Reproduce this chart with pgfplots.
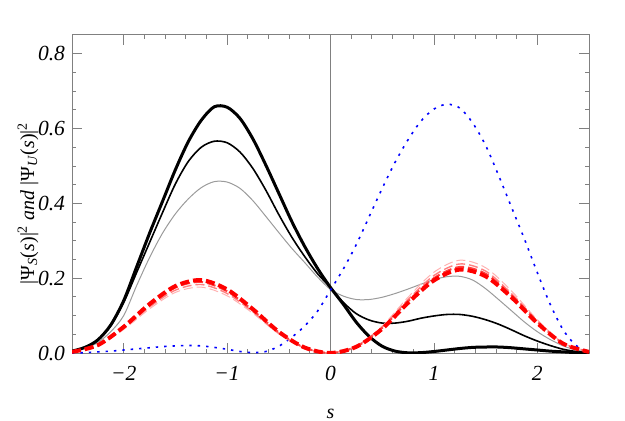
\documentclass[border=0pt]{standalone}
\usepackage{fontspec}
\setmainfont{Liberation Serif}
\usepackage{pgfplots}
\pgfplotsset{compat=1.18}
\usepackage{pgfplotstable}
\definecolor{framegray}{RGB}{128,128,128}
\definecolor{thingray}{RGB}{155,155,155}

\pgfplotstableread{
s      tb      mb     gt     bl
-2.5   0.005   0.005  0.004  0.000
-2.375 0.015   0.015  0.012  0.001
-2.25  0.035   0.035  0.028  0.003
-2.125 0.075   0.073  0.057  0.005
-2.0   0.14    0.135  0.10   0.008
-1.875 0.23    0.215  0.18   0.011
-1.75  0.32    0.295  0.255  0.014
-1.625 0.405   0.375  0.32   0.017
-1.5   0.49    0.452  0.372  0.019
-1.375 0.565   0.512  0.412  0.020
-1.25  0.622   0.550  0.442  0.019
-1.125 0.658   0.566  0.458  0.015
-1.0   0.657   0.562  0.457  0.010
-0.875 0.627   0.537  0.44   0.004
-0.75  0.572   0.493  0.407  0.001
-0.625 0.502   0.435  0.365  0.004
-0.5   0.427   0.37   0.322  0.018
-0.375 0.352   0.31   0.28   0.042
-0.25  0.285   0.258  0.242  0.072
-0.125 0.226   0.212  0.203  0.112
0.0    0.175   0.175  0.17   0.168
0.125  0.13    0.135  0.152  0.225
0.25   0.082   0.105  0.143  0.29
0.375  0.044   0.088  0.143  0.365
0.5    0.018   0.080  0.149  0.44
0.625  0.005   0.080  0.159  0.51
0.75   0.0005  0.085  0.171  0.57
0.875  0.001   0.093  0.184  0.62
1.0    0.004   0.099  0.196  0.652
1.125  0.008   0.103  0.204  0.665
1.25   0.012   0.103  0.205  0.655
1.375  0.015   0.098  0.195  0.615
1.5    0.016   0.089  0.172  0.555
1.625  0.016   0.077  0.143  0.475
1.75   0.014   0.062  0.113  0.39
1.875  0.011   0.046  0.083  0.305
2.0    0.008   0.032  0.057  0.215
2.125  0.005   0.020  0.036  0.13
2.25   0.003   0.010  0.019  0.062
2.375  0.001   0.004  0.008  0.02
2.5    0.0     0.001  0.002  0.004
}\blackdata

\pgfplotstableread{
s     ra     rb     rc     rd
-2.5  0.003  0.003  0.003  0.003
-2.25 0.021  0.021  0.020  0.019
-2.0  0.070  0.068  0.066  0.063
-1.75 0.131  0.127  0.123  0.118
-1.5  0.179  0.175  0.168  0.162
-1.25 0.195  0.19   0.183  0.176
-1.0  0.170  0.165  0.159  0.153
-0.75 0.117  0.114  0.110  0.106
-0.5  0.0566 0.055  0.053  0.051
-0.25 0.0146 0.0143 0.0137 0.013
0.0   0.0    0.0    0.0    0.0
0.25  0.0167 0.017  0.018  0.019
0.5   0.0647 0.067  0.069  0.072
0.75  0.134  0.138  0.143  0.149
1.0   0.194  0.200  0.207  0.216
1.25  0.223  0.23   0.238  0.248
1.5   0.205  0.212  0.219  0.228
1.75  0.149  0.154  0.159  0.166
2.0   0.080  0.083  0.086  0.089
2.25  0.025  0.025  0.026  0.027
2.5   0.003  0.003  0.004  0.004
}\reddata

\begin{document}
\begin{tikzpicture}
\useasboundingbox (-36bp,-34bp) rectangle (276.5bp,176.5bp);
\begin{axis}[
  at={(0,0)}, anchor=south west, scale only axis,
  width=258.5bp, height=159bp,
  xmin=-2.5, xmax=2.5, ymin=0, ymax=0.85,
  xtick={-2,-1,0,1,2}, xticklabels={−2,−1,0,1,2},
  ytick={0,0.2,0.4,0.6,0.8}, yticklabels={0.0,0.2,0.4,0.6,0.8},
  minor x tick num=4, minor y tick num=3,
  tick align=inside, major tick length=5bp, minor tick length=2bp,
  axis line style={framegray, line width=0.5bp},
  tick style={framegray, line width=0.4bp},
  ticklabel style={font=\fontsize{10.8}{13}\selectfont\itshape},
  xticklabel style={yshift=-3bp},
  every axis x label/.style={at={(axis description cs:0.5,0)}, yshift=-30.5bp, anchor=center},
  every axis y label/.style={at={(axis description cs:0,0.47)}, xshift=-22bp, rotate=90, anchor=center},
  xlabel={\textit{s}},
  ylabel={|Ψ\textsubscript{\itshape S}(\textit{s})|\textsuperscript{2} \textit{and} |Ψ\textsubscript{\itshape U}(\textit{s})|\textsuperscript{2}},
]
\addplot[framegray, line width=0.4bp] coordinates {(0,0) (0,0.85)};
\addplot[thingray, line width=0.5bp, smooth] table[x=s, y=gt] {\blackdata};
\addplot[black, line width=0.8bp, smooth] table[x=s, y=mb] {\blackdata};
\addplot[black, line width=1.5bp, smooth] table[x=s, y=tb] {\blackdata};
\addplot[blue, line width=0.8bp, dash pattern=on 1.2bp off 3bp, smooth] table[x=s, y=bl] {\blackdata};
\addplot[red!30, line width=0.5bp, dash pattern=on 4.5bp off 2bp, smooth] table[x=s, y=rd] {\reddata};
\addplot[red!50, line width=0.7bp, dash pattern=on 4.5bp off 2bp, smooth] table[x=s, y=rc] {\reddata};
\addplot[red!75, line width=1bp, dash pattern=on 4.5bp off 2bp, smooth] table[x=s, y=rb] {\reddata};
\addplot[red, line width=2bp, dash pattern=on 4.5bp off 2bp, smooth] table[x=s, y=ra] {\reddata};
\end{axis}
\end{tikzpicture}
\end{document}
